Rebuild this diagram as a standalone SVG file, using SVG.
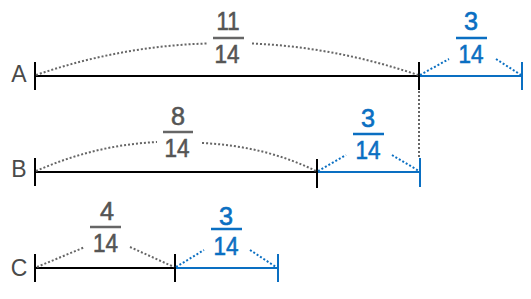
<svg xmlns="http://www.w3.org/2000/svg" width="531" height="299" viewBox="0 0 531 299">
<style>
.bg{fill:#fff}
.lbl{font-family:"Liberation Sans",Arial,sans-serif;font-size:23px;fill:#4a4a4a;text-anchor:middle}
.num{font-family:"Liberation Sans",Arial,sans-serif;font-size:25px;text-anchor:middle;stroke-width:0.6}
.g{fill:#555;stroke:#555}
.b{fill:#0a6fc2;stroke:#0a6fc2}
.barg{stroke:#666;stroke-width:2.5}
.barb{stroke:#0a6fc2;stroke-width:2.5}
.blk{stroke:#000;stroke-width:2;fill:none}
.blu{stroke:#0a6fc2;stroke-width:2;fill:none}
.dotg{stroke:#666;stroke-width:2;stroke-dasharray:2 2;fill:none}
.dotb{stroke:#0a6fc2;stroke-width:2;stroke-dasharray:2 2;fill:none}
</style>
<rect class="bg" width="531" height="299"/>
<g id="connectors">
<!-- A -->
<line class="blk" x1="35" y1="76" x2="419" y2="76"/>
<line class="blu" x1="420" y1="76" x2="522" y2="76"/>
<line class="blk" x1="35" y1="62" x2="35" y2="90"/>
<line class="blk" x1="419" y1="62" x2="419" y2="90"/>
<line class="blu" x1="522" y1="62" x2="522" y2="90"/>
<path class="dotg" d="M36,75 Q121,46 207,43.5"/>
<path class="dotg" d="M252,43.5 Q335,47 418,75"/>
<line class="dotb" x1="420" y1="75" x2="449" y2="59"/>
<line class="dotb" x1="496" y1="59" x2="521" y2="75"/>
<line class="dotg" x1="419" y1="91" x2="419" y2="158"/>
<!-- B -->
<line class="blk" x1="35" y1="172" x2="317" y2="172"/>
<line class="blu" x1="318" y1="172" x2="420" y2="172"/>
<line class="blk" x1="35" y1="158" x2="35" y2="186"/>
<line class="blk" x1="317" y1="159" x2="317" y2="188"/>
<line class="blu" x1="420" y1="158" x2="420" y2="187"/>
<path class="dotg" d="M36,171 Q95,145 157,142"/>
<path class="dotg" d="M202,143 Q265,146 316,171"/>
<line class="dotb" x1="318" y1="171" x2="346" y2="155"/>
<line class="dotb" x1="392" y1="155" x2="419" y2="171"/>
<!-- C -->
<line class="blk" x1="35" y1="268" x2="175" y2="268"/>
<line class="blu" x1="176" y1="268" x2="278" y2="268"/>
<line class="blk" x1="35" y1="254" x2="35" y2="282"/>
<line class="blk" x1="175" y1="254" x2="175" y2="282"/>
<line class="blu" x1="278" y1="254" x2="278" y2="282"/>
<line class="dotg" x1="37" y1="267" x2="85" y2="247"/>
<line class="dotg" x1="130" y1="247" x2="174" y2="267"/>
<line class="dotb" x1="176" y1="267" x2="204" y2="250"/>
<line class="dotb" x1="250" y1="250" x2="276" y2="267"/>
</g>
<g id="labelA"><text class="lbl" x="19" y="82">A</text></g>
<g id="labelB"><text class="lbl" x="19" y="177">B</text></g>
<g id="labelC"><text class="lbl" x="19" y="276">C</text></g>
<g id="fracA1">
<text class="num g" x="228" y="30" textLength="23" lengthAdjust="spacingAndGlyphs">11</text>
<line class="barg" x1="213" y1="38" x2="244" y2="38"/>
<text class="num g" x="227" y="63" textLength="25" lengthAdjust="spacingAndGlyphs">14</text>
</g>
<g id="fracA2">
<text class="num b" x="471" y="30" textLength="14" lengthAdjust="spacingAndGlyphs">3</text>
<line class="barb" x1="456" y1="38" x2="487" y2="38"/>
<text class="num b" x="471" y="63" textLength="25" lengthAdjust="spacingAndGlyphs">14</text>
</g>
<g id="fracB1">
<text class="num g" x="178" y="125" textLength="14" lengthAdjust="spacingAndGlyphs">8</text>
<line class="barg" x1="163" y1="132" x2="193" y2="132"/>
<text class="num g" x="177" y="157" textLength="25" lengthAdjust="spacingAndGlyphs">14</text>
</g>
<g id="fracB2">
<text class="num b" x="368" y="127" textLength="14" lengthAdjust="spacingAndGlyphs">3</text>
<line class="barb" x1="353" y1="134" x2="384" y2="134"/>
<text class="num b" x="368" y="159" textLength="25" lengthAdjust="spacingAndGlyphs">14</text>
</g>
<g id="fracC1">
<text class="num g" x="107" y="220" textLength="14" lengthAdjust="spacingAndGlyphs">4</text>
<line class="barg" x1="90" y1="227" x2="121" y2="227"/>
<text class="num g" x="105.5" y="252" textLength="25" lengthAdjust="spacingAndGlyphs">14</text>
</g>
<g id="fracC2">
<text class="num b" x="226" y="225" textLength="14" lengthAdjust="spacingAndGlyphs">3</text>
<line class="barb" x1="211" y1="229" x2="242" y2="229"/>
<text class="num b" x="226" y="255" textLength="25" lengthAdjust="spacingAndGlyphs">14</text>
</g>
</svg>
